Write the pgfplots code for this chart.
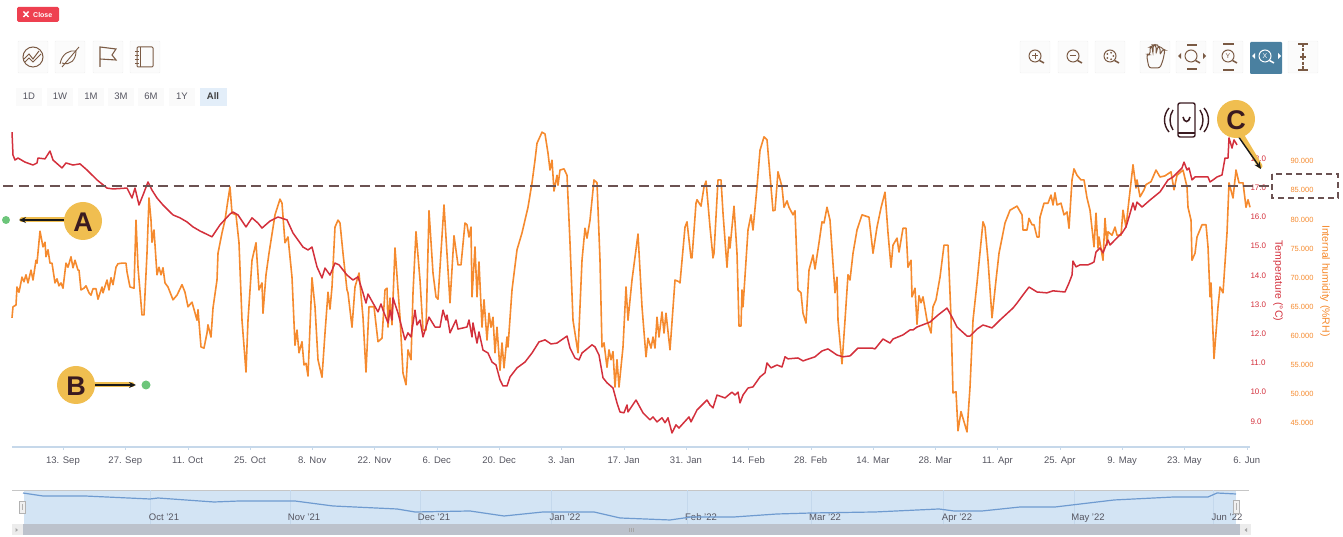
\documentclass[border=0pt]{standalone}
\usepackage{pgfplots}
\pgfplotsset{compat=1.18}
\usepackage{fontspec}
\setmainfont{Liberation Sans}
\usetikzlibrary{arrows.meta,calc}
\definecolor{hum}{HTML}{F58A2E}
\definecolor{tmp}{HTML}{D3303C}
\definecolor{ico}{HTML}{7A5A44}
\definecolor{txt}{HTML}{555560}
\definecolor{gold}{HTML}{F0BE50}
\definecolor{ink}{HTML}{3A1A20}
\definecolor{dashc}{HTML}{6B5252}
\definecolor{navbg}{HTML}{D3E4F4}
\definecolor{navln}{HTML}{6F9BD0}
\definecolor{navgrid}{HTML}{C4D8EC}
\definecolor{axln}{HTML}{C6D8EA}
\definecolor{active}{HTML}{4A80A0}
\definecolor{closec}{HTML}{EE4050}
\definecolor{allbg}{HTML}{E3EEF9}
\definecolor{scroll}{HTML}{BCC2CC}
\definecolor{dot}{HTML}{6CC57A}
\newcommand{\fs}[1]{\fontsize{#1}{#1}\selectfont}
\newcommand{\btn}[2]{\draw[draw=gray!12,fill=gray!3,rounded corners=1pt] (#1-15,#2-16) rectangle (#1+15,#2+16);}
\newcommand{\lens}[2]{\draw[ico,line width=1pt] (#1-1,#2-1) circle (6); \draw[ico,line width=1.5pt] (#1+3.5,#2+3.5)--(#1+8,#2+6);}
\begin{document}
\begin{tikzpicture}
\useasboundingbox (0,0) rectangle (1343pt,537pt);
% ---------- main chart: humidity
\begin{axis}[at={(12pt,90pt)},anchor=south west,scale only axis,width=1238pt,height=317pt,
  clip=false,xmin=12,xmax=1250,ymin=40.91,ymax=95.38,
  axis x line*=bottom,axis y line*=right,
  x axis line style={draw=none},
  y axis line style={draw=none},
  xtick={63,125.3,187.6,249.9,312.2,374.5,436.8,499.1,561.4,623.7,686,748.3,810.6,872.9,935.2,997.5,1059.8,1122.1,1184.4,1246.7},
  xticklabels={13. Sep,27. Sep,11. Oct,25. Oct,8. Nov,22. Nov,6. Dec,20. Dec,3. Jan,17. Jan,31. Jan,14. Feb,28. Feb,14. Mar,28. Mar,11. Apr,25. Apr,9. May,23. May,6. Jun},
  xticklabel style={font=\fs{9.5},text=txt,yshift=-6pt,text height=7pt,text depth=2pt},
  x tick style={draw=none},
  ytick={45,50,55,60,65,70,75,80,85,90},
  ytick style={draw=none},
  yticklabel style={font=\fs{7.5},text=hum,anchor=west,xshift=37pt,
    /pgf/number format/fixed,/pgf/number format/zerofill,/pgf/number format/precision=3,/pgf/number format/assume math mode=true},
  ylabel={Internal humidity (\%RH)},
  ylabel style={font=\fs{10.5},text=hum,at={(axis description cs:1.0606,0.524)},anchor=center,rotate=180},
  scaled y ticks=false]
\addplot[hum,line width=1.6pt,line join=round] coordinates {
(12,63.1)(13,65.0)(16,65.3)(17,68.4)(19,67.5)(22,70.1)(24,69.3)(26,70.5)(28,69.1)(31,71.3)(33,69.6)(36,73.0)(37,72.5)(40,78.0)(43,75.3)(45,76.1)(46,73.6)(48,74.8)(50,72.5)(52,72.5)(55,69.1)(57,69.8)(59,68.6)(61,69.1)(63,68.2)(66,72.5)(68,71.8)(71,73.6)(73,71.7)(75,73.0)(78,71.3)(79,71.3)(81,67.9)(84,68.2)(86,68.6)(89,67.4)(91,67.0)(93,68.1)(96,68.1)(98,66.3)(102,68.4)(103,67.4)(107,69.6)(109,67.9)(111,70.0)(113,68.8)(116,71.8)(118,72.4)(122,72.5)(126,72.5)(127,71.0)(130,68.4)(134,68.2)(136,79.9)(138,71.8)(142,63.6)(144,63.6)(147,74.2)(149,83.7)(151,79.9)(152,76.1)(154,78.2)(157,70.5)(159,71.8)(161,70.5)(163,71.7)(165,69.1)(168,68.4)(173,66.2)(177,67.0)(182,68.8)(185,67.5)(188,65.0)(192,65.8)(197,62.7)(198,64.5)(201,58.1)(204,57.9)(207,60.5)(208,61.9)(211,59.8)(213,64.8)(217,69.6)(218,74.2)(222,77.7)(225,79.9)(228,83.4)(230,85.6)(232,81.1)(236,80.8)(239,76.0)(242,62.7)(246,53.8)(248,62.7)(252,73.0)(256,76.0)(259,67.9)(262,69.1)(263,63.9)(266,70.5)(269,74.2)(275,80.8)(280,83.5)(282,82.8)(285,76.0)(288,77.0)(292,70.1)(295,58.4)(297,61.0)(299,57.1)(302,59.0)(304,55.0)(306,55.3)(308,53.1)(312,70.0)(315,65.0)(318,55.9)(322,52.9)(325,60.5)(328,67.5)(330,64.6)(332,68.4)(335,78.7)(338,79.9)
(340,79.4)(343,74.2)(347,67.9)(348,67.4)(352,61.5)(355,68.4)(359,70.8)(363,63.2)(366,53.8)(369,65.0)(374,65.0)(378,59.0)(382,59.6)(385,67.9)(387,68.2)(388,61.5)(390,66.5)(392,61.9)(395,75.1)(400,63.2)(403,53.6)(406,51.6)(408,57.6)(411,55.9)(413,67.4)(416,77.9)(420,69.6)(423,61.0)(426,61.0)(429,81.5)(433,70.8)(436,66.7)(438,66.3)(444,82.5)(450,65.7)(454,77.2)(458,72.2)(461,72.2)(465,79.4)(467,79.1)(469,77.0)(471,78.7)(472,66.7)(475,75.3)(477,66.7)(479,72.7)(482,61.5)(484,66.2)(487,59.3)(489,63.9)(491,61.5)(493,63.2)(495,57.1)(497,61.5)(500,54.1)(502,58.8)(504,54.5)(507,59.8)(508,58.1)(512,67.9)(517,74.8)(522,77.7)(528,82.1)(532,86.3)(535,90.2)(537,93.1)(542,95.0)(545,94.7)(548,91.4)(550,88.5)(552,90.2)(554,84.9)(557,87.6)(558,85.9)(560,88.5)(564,88.7)(567,87.6)(570,76.0)(573,62.7)(578,57.1)(582,73.0)(585,78.5)(587,76.8)(590,79.9)(594,86.8)(597,86.3)(600,73.0)(602,58.1)(604,58.8)(607,54.6)(609,57.6)(611,55.9)(613,57.3)(615,51.2)(617,55.9)(619,51.2)(623,58.1)(626,68.4)(628,62.7)(632,69.6)(638,77.5)(642,65.0)(646,56.4)(648,59.6)(651,57.9)(653,59.8)(655,57.9)(657,63.2)(659,59.8)(662,64.1)(664,60.5)(666,63.9)(670,57.6)(675,69.6)(679,69.3)
(680,69.1)(685,78.7)(687,79.6)(691,73.4)(692,73.4)(696,82.8)(697,83.4)(701,82.3)(704,85.6)(706,86.6)(710,78.7)(713,73.4)(714,74.2)(718,86.8)(721,86.8)(723,81.1)(727,71.8)(729,77.0)(730,75.1)(734,82.3)(737,74.2)(739,61.7)(741,61.7)(742,67.9)(743,65.0)(748,78.2)(751,80.8)(753,78.2)(757,85.6)(760,91.9)(764,94.2)(767,93.7)(773,81.5)(775,81.6)(778,88.2)(782,85.6)(784,82.1)(787,83.2)(789,82.1)(793,80.8)(795,81.5)(798,67.9)(801,67.4)(803,63.9)(806,62.2)(809,71.3)(813,73.9)(815,71.5)(819,76.0)(822,79.6)(824,79.4)(827,82.1)(830,79.9)(835,67.4)(837,70.1)(838,62.7)(842,55.2)(845,62.7)(848,70.5)(850,69.6)(853,74.2)(857,78.2)(862,80.8)(869,80.4)(873,74.2)(877,78.7)(881,82.0)(885,84.7)(888,77.7)(891,71.8)(893,75.6)(897,76.8)(899,74.4)(903,78.5)(906,78.5)(908,71.8)(911,73.0)(912,66.7)(915,68.2)(917,62.0)(919,66.9)(921,65.7)(923,66.7)(927,62.7)(931,60.5)(933,65.0)(936,66.2)(940,70.1)(944,75.6)(948,75.6)(951,63.2)(953,50.2)(956,50.4)(958,43.7)(961,47.0)(967,43.5)(970,51.2)(973,62.7)(977,69.1)(983,79.6)(985,78.7)(988,73.0)(992,63.1)(996,69.6)(999,74.2)(1005,79.4)(1010,81.6)(1017,82.3)(1022,80.8)(1023,78.2)(1027,78.2)(1029,80.2)(1032,79.1)(1034,79.1)(1037,77.0)(1039,77.0)(1040,80.4)(1044,82.8)(1048,82.8)(1051,84.2)(1053,82.5)(1055,84.6)(1057,82.5)(1061,82.8)(1064,80.8)(1067,81.3)(1069,78.5)(1072,86.8)(1074,88.7)(1077,87.6)(1081,86.8)(1084,86.8)(1087,83.7)(1090,81.6)(1094,75.3)(1096,81.1)(1098,75.1)(1099,77.0)(1103,73.0)(1105,80.2)(1107,75.6)(1108,77.9)(1112,77.3)(1115,78.7)(1117,77.3)(1121,77.3)(1123,81.6)(1126,78.7)(1129,83.4)(1133,89.4)(1136,85.4)(1137,86.8)(1140,83.9)(1144,85.1)(1146,86.0)(1151,86.5)(1156,88.5)(1160,87.3)(1165,87.5)(1171,88.2)(1174,85.1)(1177,87.6)(1183,88.5)(1187,85.6)(1188,82.1)(1191,79.9)(1192,73.0)(1195,74.2)(1197,77.0)(1202,79.1)(1206,79.1)(1208,75.3)(1210,66.7)(1211,69.1)(1214,56.1)(1218,65.0)(1220,68.4)(1223,67.4)(1227,77.7)(1229,86.3)(1233,83.7)(1236,88.5)(1239,86.3)(1243,86.3)(1246,82.1)(1248,83.4)(1250,82.1)
};
\end{axis}
% ---------- main chart: temperature
\begin{axis}[at={(12pt,90pt)},anchor=south west,scale only axis,width=1238pt,height=317pt,
  clip=false,xmin=12,xmax=1250,ymin=8.12,ymax=18.98,
  axis x line*=bottom,axis y line*=right,
  x axis line style={draw=axln,line width=1.1pt},
  y axis line style={draw=none},
  xtick={63,125.3,187.6,249.9,312.2,374.5,436.8,499.1,561.4,623.7,686,748.3,810.6,872.9,935.2,997.5,1059.8,1122.1,1184.4,1246.7},
  xticklabels={},
  x tick style={draw=axln},
  tick align=outside,major tick length=3pt,
  ytick={9,10,...,18},
  ytick style={draw=none},
  yticklabel style={font=\fs{8},text=tmp,anchor=west,xshift=-6pt,
    /pgf/number format/fixed,/pgf/number format/zerofill,/pgf/number format/precision=1,/pgf/number format/assume math mode=true},
  ylabel={Temperature (°C)},
  ylabel style={font=\fs{10.5},text=tmp,at={(axis description cs:1.0226,0.524)},anchor=center,rotate=180}]
\addplot[tmp,line width=1.5pt,line join=round] coordinates {
(12,18.91)(13,18.12)(15,17.95)(18,18.02)(25,17.88)(33,17.78)(37,17.85)(38,18.02)(45,17.99)(50,18.26)(53,17.95)(62,17.68)(66,17.85)(73,17.78)(80,17.82)(87,17.61)(97,17.27)(107,16.99)(113,16.96)(127,16.99)(132,16.65)(135,16.99)(139,16.41)(143,16.75)(148,17.20)(152,16.92)(157,16.65)(163,16.41)(173,16.07)(180,15.97)(187,15.83)(193,15.66)(200,15.52)(212,15.32)(220,15.73)(230,16.10)(233,16.17)(238,16.07)(246,15.66)(252,15.97)(258,15.79)(262,15.62)(270,15.86)(278,16.00)(287,15.90)(293,15.45)(303,14.97)(308,14.87)(312,14.97)(317,14.29)(322,13.91)(325,14.25)(330,14.01)(335,14.42)(339,14.36)
(347,14.01)(353,13.84)(358,13.95)(363,13.40)(366,13.05)(368,13.36)(373,13.05)(378,12.75)(381,13.02)(383,12.81)(388,12.37)(390,12.81)(392,12.47)(393,13.23)(398,12.71)(405,11.79)(408,12.03)(411,11.89)(415,12.81)(417,12.30)(420,12.47)(423,11.89)(429,12.57)(435,12.23)(440,12.23)(443,12.81)(446,12.47)(447,12.64)(450,12.03)(456,12.47)(458,12.16)(467,12.23)(469,12.47)(472,11.89)(473,12.37)(477,11.68)(479,12.06)(483,11.44)(488,11.34)(492,11.03)(496,10.93)(500,10.42)(503,10.21)(507,10.21)(510,10.52)(517,10.83)(525,11.03)(532,11.34)(539,11.72)(545,11.79)(551,11.65)(557,11.68)(567,11.92)(570,11.51)(575,11.17)(579,11.10)(582,11.34)(592,11.62)(595,11.55)(599,11.27)(603,10.49)(607,10.32)(613,10.14)(617,9.63)(620,9.32)(624,9.29)(627,9.56)(628,9.32)(636,9.73)(643,9.29)(650,9.05)(653,9.15)(657,8.98)(662,9.12)(665,8.95)(668,9.12)(672,8.60)(676,8.88)(679,8.77)
(680,8.81)(689,9.15)(691,8.98)(697,9.39)(707,9.73)(710,9.56)(713,9.46)(717,9.90)(725,9.80)(732,10.00)(735,9.90)(738,10.00)(740,9.63)(743,9.90)(748,10.14)(753,10.18)(760,10.52)(765,10.66)(767,11.00)(771,10.83)(777,10.93)(782,10.86)(785,11.21)(788,11.14)(798,11.17)(803,11.07)(815,11.21)(822,11.41)(828,11.48)(837,11.27)(843,11.21)(850,11.24)(858,11.51)(872,11.51)(875,11.48)(883,11.82)(890,11.68)(893,11.82)(903,11.96)(910,12.13)(913,12.13)(917,12.23)(930,12.40)(938,12.64)(947,12.88)(952,12.57)(957,12.23)(967,11.92)(970,11.92)
(977,12.16)(983,12.30)(992,12.20)(1000,12.47)(1013,12.88)(1017,13.05)(1023,13.33)(1029,13.60)(1037,13.43)(1047,13.40)(1053,13.47)(1065,13.43)(1069,13.74)(1072,14.01)(1073,14.49)(1076,14.29)(1080,14.36)(1088,14.36)(1092,14.42)(1094,14.46)(1096,14.80)(1100,14.94)(1103,14.77)(1108,15.21)(1110,15.04)(1118,15.32)(1122,15.45)(1126,15.66)(1129,16.00)(1133,16.48)(1135,16.24)(1137,16.51)(1142,16.34)(1150,16.58)(1160,16.86)(1168,17.27)(1173,17.37)(1182,17.68)(1184,17.88)(1187,17.61)(1189,17.68)(1192,17.27)(1195,17.37)(1202,17.37)(1208,17.37)(1210,17.20)(1213,17.27)(1217,17.37)(1222,17.44)(1225,18.02)(1228,18.02)(1229,18.71)(1232,18.36)(1234,18.64)(1237,18.47)
};
\end{axis}
% ---------- navigator
\fill[navbg] (23.5pt,12pt) rectangle (1236pt,47pt);
\draw[gray!45,line width=0.6pt] (12pt,47pt)--(1249pt,47pt);
\begin{axis}[at={(23.5pt,12pt)},anchor=south west,scale only axis,width=1212.5pt,height=35pt,
  clip=false,xmin=23.5,xmax=1236,ymin=7.33,ymax=19,
  axis line style={draw=none},
  xtick={150,290,420,551,687,811,943,1074,1213},
  xticklabels={Oct '21,Nov '21,Dec '21,Jan '22,Feb '22,Mar '22,Apr '22,May '22,Jun '22},
  xticklabel style={font=\fs{9.5},text=txt,anchor=center,xshift=14pt,yshift=7pt,text height=7pt,text depth=2pt},
  xmajorgrids,grid style={draw=navgrid,line width=0.5pt},
  major tick length=0pt,ytick=\empty]
\addplot[navln,line width=1.2pt,line join=round] coordinates {
(23,18)(43,17)(85,17)(150,16)(158,16.33)(214,15)(239,15.33)(295,15.33)(333,13.67)(397,12.67)(415,11.67)(470,12)(504,10.33)(543,11.67)(594,11.67)(620,9.67)(670,9)(691,10)(734,10)(777,11)(811,11.33)(875,11.67)(939,12.67)(954,12)(982,12)(1020,13.33)(1055,13.33)(1114,15.67)(1174,16.67)(1208,16.67)(1217,18)(1236,17.67)
};
\end{axis}
% ---------- chart furniture in pixel coordinates
\begin{scope}[shift={(0pt,537pt)},x=1pt,y=-1pt]
% dashed reference
\draw[dashc,line width=1.9pt,dash pattern=on 10pt off 5.5pt] (3,186)--(1270,186);
\draw[dashc,line width=1.5pt,dash pattern=on 6pt off 4pt] (1272,174) rectangle (1338,198);
% scrollbar
\fill[scroll] (23,524) rectangle (1240,535);
\fill[gray!15] (12,524) rectangle (23,535);
\fill[gray!15] (1240,524) rectangle (1251,535);
\fill[gray!70] (15.5,528) -- (18,530) -- (15.5,532) -- cycle;
\fill[gray!70] (1247,528) -- (1244.5,530) -- (1247,532) -- cycle;
\draw[gray!70,line width=0.5pt] (629,528)--(629,532) (631,528)--(631,532) (633,528)--(633,532);
% navigator handles
\draw[gray!60,fill=gray!12] (19,501) rectangle (25,513);
\draw[gray!60,fill=gray!12] (1233,500) rectangle (1239,513);
\draw[gray!60,line width=0.4pt] (22,504)--(22,510) (1236,503)--(1236,510);
% close button
\fill[closec,rounded corners=1.5pt] (17,7) rectangle (59,22);
\draw[white,line width=1.4pt] (23.5,11.5)--(28.5,17) (28.5,11.5)--(23.5,17);
\node[white,font=\fs{7}\bfseries,anchor=west,inner sep=0pt] at (33,14.8) {Close};
% left toolbar
\btn{33}{57}\btn{70}{57}\btn{108}{57}\btn{145}{57}
\draw[ico,line width=1pt] (33,57) circle (10);
\draw[ico,line width=1pt] (24,59)--(29,54)--(33,59)--(39,51) (25,62)--(29,58)--(33,62)--(41,54);
\draw[ico,line width=0.9pt] (60,64) .. controls (62,53) and (70,50) .. (76,51) .. controls (76,60) and (70,66) .. (62,63);
\draw[ico,line width=0.9pt] (62,67)--(79,47);
\draw[ico,line width=1.1pt] (100,67)--(100,47)--(116,49)--(112,55)--(116,60)--(100,59);
\draw[ico,line width=1pt,rounded corners=1pt] (137,47) rectangle (153,67);
\draw[ico,line width=0.9pt] (140,47)--(140,67) (135,51)--(139,51) (135,55)--(139,55) (135,59)--(139,59) (135,63)--(139,63);
% range selector
\foreach \x/\l in {29/1D,60/1W,91/1M,121/3M,151/6M,182/1Y}{
  \fill[gray!4] (\x-13,88) rectangle (\x+13,106);
  \node[txt,font=\fs{9.5}] at (\x,96.5) {\l};}
\fill[allbg] (200,88) rectangle (227,106);
\node[text=black!75,font=\fs{9.5}\bfseries] at (213,96.5) {All};
% right toolbar
\foreach \x in {1035,1073,1110,1155,1191,1228,1303}{\btn{\x}{57}}
\fill[active,rounded corners=1pt] (1250,42) rectangle (1282,74);
\lens{1036}{57}\draw[ico,line width=1pt] (1032,56)--(1038,56) (1035,53)--(1035,59);
\lens{1074}{57}\draw[ico,line width=1pt] (1070,56)--(1076,56);
\lens{1111}{57}\foreach \a in {0,72,...,288}{\fill[ico] ($(1110,56)+(\a:3.4)$) circle (1);}
\draw[ico,line width=1pt,rounded corners=2.5pt] (1149,68) -- (1147,58) -- (1147,54) -- (1150,55) -- (1150,47) -- (1152,46) -- (1153,54) -- (1153,45) -- (1156,45) -- (1156,54) -- (1158,46) -- (1160,47) -- (1160,55) -- (1163,49) -- (1165,50) -- (1163,60) -- (1160,68) -- cycle;
\lens{1192}{57}\fill[ico] (1181,53)--(1181,59)--(1178,56)--cycle (1203,53)--(1203,59)--(1206,56)--cycle;
\draw[ico,line width=1.2pt] (1187,45)--(1197,45) (1187,69)--(1197,69);
\lens{1229}{57}\draw[ico,line width=1.2pt] (1223,44)--(1234,44) (1223,70)--(1234,70);
\node[ico,font=\fs{7}] at (1228,56) {Y};
\draw[white,line width=1pt] (1265,56) circle (6);\draw[white,line width=1.5pt] (1269.5,60.5)--(1274,63);
\fill[white] (1255,53)--(1255,59)--(1252,56)--cycle (1278,53)--(1278,59)--(1281,56)--cycle;
\node[white,font=\fs{7}] at (1265,56) {X};
\draw[ico,line width=1.2pt,dash pattern=on 3pt off 1.5pt] (1303,44)--(1303,70);
\draw[ico,line width=1.3pt] (1298,44)--(1308,44) (1298,70)--(1308,70) (1300,57)--(1306,57);
% annotations
\fill[dot] (6,220) circle (4);
\fill[dot] (146,385) circle (4.5);
\draw[gold,line width=5pt,line cap=round] (66,220)--(22,220);
\draw[-{Stealth[length=7pt,width=6pt]},black!90,line width=1.4pt] (66,220)--(19,220);
\fill[gold] (83,221) circle (19);
\node[ink,font=\fs{27}\bfseries] at (83,222) {A};
\draw[gold,line width=5pt,line cap=round] (95,385)--(132,385);
\draw[-{Stealth[length=7pt,width=6pt]},black!90,line width=1.4pt] (93,385)--(136,385);
\fill[gold] (76,385) circle (19);
\node[ink,font=\fs{27}\bfseries] at (76,386) {B};
\draw[gold,line width=5pt,line cap=round] (1242,136)--(1260,166);
\draw[-{Stealth[length=7pt,width=6pt]},black!90,line width=1.4pt] (1238,136)--(1261,169);
\fill[gold] (1236,119) circle (19);
\node[ink,font=\fs{27}\bfseries] at (1236,120) {C};
% phone
\draw[ink,line width=1.4pt,rounded corners=2pt] (1178,103) rectangle (1195,137);
\draw[ink,line width=2pt] (1178,133.5)--(1195,133.5);
\draw[ink,line width=1.6pt] (1183,117) .. controls (1184,123) and (1189,123) .. (1190,117);
\draw[ink,line width=1.4pt] (1173,110) .. controls (1169,116) and (1169,124) .. (1173,130);
\draw[ink,line width=1.4pt] (1169,108) .. controls (1163,115) and (1163,125) .. (1169,132);
\draw[ink,line width=1.4pt] (1200,110) .. controls (1204,116) and (1204,124) .. (1200,130);
\draw[ink,line width=1.4pt] (1204,108) .. controls (1210,115) and (1210,125) .. (1204,132);
\end{scope}
\end{tikzpicture}
\end{document}
